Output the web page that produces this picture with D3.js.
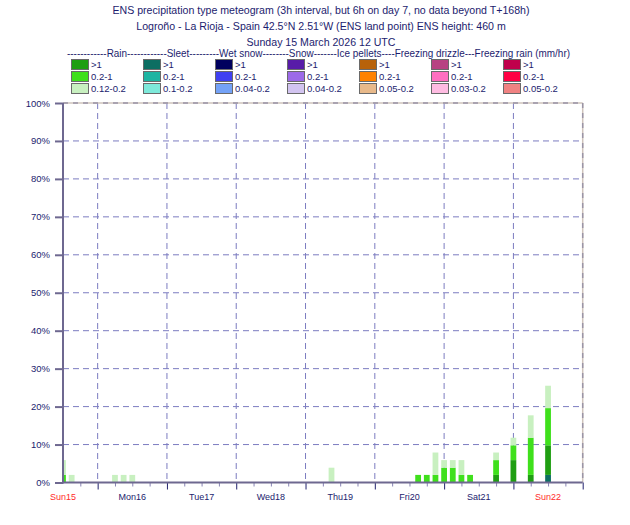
<!DOCTYPE html>
<html>
<head>
  <title>ENS precipitation type meteogram</title>
  <script type="text/javascript" src="https://d3js.org/d3.v7.min.js"></script>
  <style type="text/css">
    body {
      margin: 0px;
      background: #fff;
    }
    text {
      font-family: "Liberation Sans", Arial, sans-serif;
    }
  </style>
</head>
<body>
  <svg width="630" height="525"></svg>
  <script type="text/javascript">
    var titles = [
      "ENS precipitation type meteogram (3h interval, but 6h on day 7, no data beyond T+168h)",
      "Logroño - La Rioja - Spain 42.5°N 2.51°W (ENS land point) ENS height: 460 m",
      "Sunday 15 March 2026 12 UTC"
    ];
    var legendHeader = "------------Rain------------Sleet---------Wet snow--------Snow-------Ice pellets----Freezing drizzle---Freezing rain (mm/hr)";

    // legend: one column per type, three intensity classes each
    var legendTypes = ["Rain", "Sleet", "Wet snow", "Snow", "Ice pellets", "Freezing drizzle", "Freezing rain"];
    var legendLabels = [
      [">1", "0.2-1", "0.12-0.2"],
      [">1", "0.2-1", "0.1-0.2"],
      [">1", "0.2-1", "0.04-0.2"],
      [">1", "0.2-1", "0.04-0.2"],
      [">1", "0.2-1", "0.05-0.2"],
      [">1", "0.2-1", "0.03-0.2"],
      [">1", "0.2-1", "0.05-0.2"]
    ];
    var legendColors = [
      ["#1f9e12", "#3fe01c", "#c8f0c0"],
      ["#0c6e62", "#1db5a2", "#7ee9da"],
      ["#00005e", "#4040f2", "#74a2f7"],
      ["#581ca8", "#9c6ae8", "#d2c4f0"],
      ["#b8620a", "#ff8200", "#e8b98a"],
      ["#b84282", "#ff6ec0", "#ffbce2"],
      ["#c0004c", "#ff0044", "#f08282"]
    ];

    // forecast step (hours after base time) and probability (%) per class
    var steps      = [0,   3,   18,  21,  24,  93,  123, 126, 129, 132, 135, 138, 141, 150, 156, 162,  168];
    var sleetHeavy = [0,   0,   0,   0,   0,   0,   0,   0,   0,   0,   0,   0,   0,   0,   0,   0,    2.0];
    var rainHeavy  = [0,   0,   0,   0,   0,   0,   0,   0,   0,   0,   0,   0,   0,   2.0, 5.9, 2.0,  7.8];
    var rainMod    = [2.0, 0,   0,   0,   0,   0,   2.0, 2.0, 2.0, 3.9, 3.9, 2.0, 2.0, 3.9, 3.9, 9.8,  9.8];
    var rainLight  = [3.9, 2.0, 2.0, 2.0, 2.0, 3.9, 0,   0,   5.9, 2.0, 2.0, 3.9, 0,   2.0, 2.0, 5.9,  5.9];

    var dayLabels = ["Sun15", "Mon16", "Tue17", "Wed18", "Thu19", "Fri20", "Sat21", "Sun22"];
    var dayHours  = [0, 24, 48, 72, 96, 120, 144, 168];
    var redDays   = ["Sun15", "Sun22"];
    var yTicks    = [0, 10, 20, 30, 40, 50, 60, 70, 80, 90, 100];

    var series = [
      {values: sleetHeavy, color: legendColors[1][0]},
      {values: rainHeavy, color: legendColors[0][0]},
      {values: rainMod, color: legendColors[0][1]},
      {values: rainLight, color: legendColors[0][2]}
    ];

    var svg = d3.select("svg");
    var navy = "#1c1c6e";
    var axisCol = "#6e6890";
    var plotL = 63, plotR = 582.7, plotT = 103, plotB = 482.5;

    var x = d3.scaleLinear().domain([0, 180]).range([plotL, plotR]);
    var y = d3.scaleLinear().domain([0, 100]).range([plotB, plotT]);

    // titles
    svg.selectAll("text.title").data(titles).enter().append("text")
      .attr("class", "title")
      .attr("x", 321)
      .attr("y", function(d, i){ return 13.5 + i * 16.3; })
      .attr("text-anchor", "middle")
      .attr("font-size", 10.6)
      .attr("fill", navy)
      .text(function(d){ return d; });

    // legend
    svg.append("text")
      .attr("x", 67).attr("y", 56.5)
      .attr("font-size", 10.5)
      .attr("fill", navy)
      .attr("textLength", 503)
      .attr("lengthAdjust", "spacingAndGlyphs")
      .text(legendHeader);

    legendTypes.forEach(function(t, c){
      var g = svg.append("g").attr("transform", "translate(" + (71 + c * 72) + ",59)");
      legendLabels[c].forEach(function(lab, r){
        g.append("rect")
          .attr("x", 0.5).attr("y", r * 12 + 0.5)
          .attr("width", 17).attr("height", 10)
          .attr("fill", legendColors[c][r])
          .attr("stroke", "#6a6a6a").attr("stroke-width", 1);
        g.append("text")
          .attr("x", 20).attr("y", r * 12 + 9)
          .attr("font-size", 9.5)
          .attr("fill", navy)
          .text(lab);
      });
    });

    // horizontal grid
    svg.selectAll("line.hgrid").data(yTicks.slice(1, -1)).enter().append("line")
      .attr("x1", plotL).attr("x2", plotR)
      .attr("y1", function(d){ return y(d); }).attr("y2", function(d){ return y(d); })
      .attr("stroke", "#7c7cc0").attr("stroke-width", 1)
      .attr("stroke-dasharray", "6,4");

    // vertical grid at 00 UTC
    var midnights = d3.range(12, 180, 24);
    svg.selectAll("line.vgrid").data(midnights).enter().append("line")
      .attr("x1", function(d){ return x(d); }).attr("x2", function(d){ return x(d); })
      .attr("y1", plotT).attr("y2", plotB)
      .attr("stroke", "#7c7cc0").attr("stroke-width", 1)
      .attr("stroke-dasharray", "6,4");

    // bars
    svg.append("clipPath").attr("id", "plot").append("rect")
      .attr("x", plotL).attr("y", plotT).attr("width", plotR - plotL).attr("height", plotB - plotT);
    var stack = d3.stack().keys(d3.range(series.length)).value(function(d, k){ return series[k].values[d]; });
    var layers = stack(d3.range(steps.length));
    var bw = x(2) - x(0);
    var barG = svg.append("g").attr("clip-path", "url(#plot)");
    layers.forEach(function(layer, k){
      barG.selectAll(null).data(layer.filter(function(d){ return d[1] > d[0]; })).enter().append("rect")
        .attr("x", function(d){ return x(steps[d.data]) - bw / 2; })
        .attr("width", bw)
        .attr("y", function(d){ return y(d[1]); })
        .attr("height", function(d){ return y(d[0]) - y(d[1]); })
        .attr("fill", series[k].color);
    });

    // top and right border
    [[plotL, plotT, plotR, plotT], [plotR, plotT, plotR, plotB]].forEach(function(p){
      svg.append("line").attr("x1", p[0]).attr("y1", p[1]).attr("x2", p[2]).attr("y2", p[3])
        .attr("stroke", "#cfc4bc").attr("stroke-width", 1.5);
      svg.append("line").attr("x1", p[0]).attr("y1", p[1]).attr("x2", p[2]).attr("y2", p[3])
        .attr("stroke", "#9a94a6").attr("stroke-width", 1.5).attr("stroke-dasharray", "5,5");
    });

    // y axis
    var yAxis = d3.axisLeft(y).tickValues(yTicks).tickSize(8).tickPadding(5)
      .tickFormat(function(d){ return d + "%"; });
    var yg = svg.append("g").attr("transform", "translate(" + plotL + ",0)").call(yAxis);
    yg.select(".domain").remove();
    yg.selectAll(".tick line").attr("stroke", axisCol).attr("stroke-width", 2);
    yg.selectAll(".tick text").attr("fill", navy).attr("font-size", 9.5)
      .attr("font-family", "Liberation Sans, Arial, sans-serif");

    // x axis ticks every 6h
    var xAxis = d3.axisBottom(x).tickValues(d3.range(6, 181, 6)).tickSize(4).tickFormat("");
    var xg = svg.append("g").attr("transform", "translate(0," + plotB + ")").call(xAxis);
    xg.select(".domain").remove();
    xg.selectAll(".tick line")
      .attr("stroke", function(d){ return d % 24 === 12 ? "#22226e" : "#8884b4"; })
      .attr("y2", function(d){ return d % 24 === 12 ? 7 : 4; })
      .attr("stroke-width", 1);

    // axis lines
    svg.append("line").attr("x1", plotL).attr("x2", plotL).attr("y1", plotT).attr("y2", plotB + 1)
      .attr("stroke", axisCol).attr("stroke-width", 2);
    svg.append("line").attr("x1", plotL - 1).attr("x2", plotR).attr("y1", plotB).attr("y2", plotB)
      .attr("stroke", axisCol).attr("stroke-width", 2);

    // day labels
    svg.selectAll("text.day").data(dayLabels).enter().append("text")
      .attr("x", function(d, i){ return x(dayHours[i]); })
      .attr("y", 500)
      .attr("text-anchor", "middle")
      .attr("font-size", 9)
      .attr("fill", function(d){ return redDays.indexOf(d) >= 0 ? "#ff2a2a" : navy; })
      .text(function(d){ return d; });
  </script>
</body>
</html>
